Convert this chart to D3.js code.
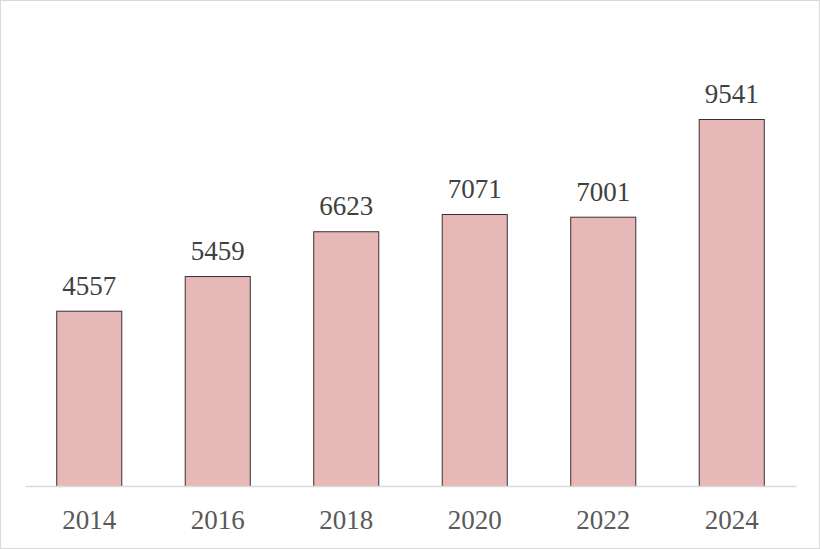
<!DOCTYPE html>
<html><head><meta charset="utf-8">
<script src="https://cdn.jsdelivr.net/npm/d3@7/dist/d3.min.js"></script>
<style>
html,body{margin:0;padding:0;background:#fff;}
svg{display:block;}
</style></head>
<body>
<script>
const categories = ["2014","2016","2018","2020","2022","2024"];
const values = [4557,5459,6623,7071,7001,9541];

const W = 820, H = 549;
const svg = d3.select("body").append("svg").attr("width", W).attr("height", H);

svg.append("rect").attr("x",0.5).attr("y",0.5).attr("width",W-1).attr("height",H-1)
  .attr("fill","#fff").attr("stroke","#d9d9d9").attr("stroke-width",1);

const x = d3.scaleBand().domain(categories).range([25, 796]).paddingInner(0.486).paddingOuter(0.243);
const y = d3.scaleLinear().domain([0, 12000]).range([486, 486 - 12000*367/9541]);

const font = "'Liberation Serif','Times New Roman',serif";

svg.selectAll("rect.bar").data(values).join("rect").attr("class","bar")
  .attr("x",(d,i)=>x(categories[i])+0.5)
  .attr("y",d=>y(d)+0.5)
  .attr("width",x.bandwidth()-1)
  .attr("height",d=>y(0)-y(d))
  .attr("fill","#e6b8b7").attr("stroke","#3b2f2f").attr("stroke-width",1);

const axis = d3.axisBottom(x).tickSize(0).tickPadding(0);
const g = svg.append("g").attr("transform","translate(0,486)").call(axis);
g.select(".domain").attr("stroke","#d9d9d9").attr("stroke-width",1.3);
g.selectAll(".tick text").attr("dy",null).attr("y",43)
  .attr("font-family",font).attr("font-size",27).attr("fill","#595959");

svg.selectAll("text.val").data(values).join("text").attr("class","val")
  .attr("x",(d,i)=>x(categories[i])+x.bandwidth()/2)
  .attr("y",d=>y(d)-16)
  .attr("text-anchor","middle")
  .attr("font-family",font).attr("font-size",27).attr("fill","#404040")
  .text(d=>d);
</script>
</body></html>
